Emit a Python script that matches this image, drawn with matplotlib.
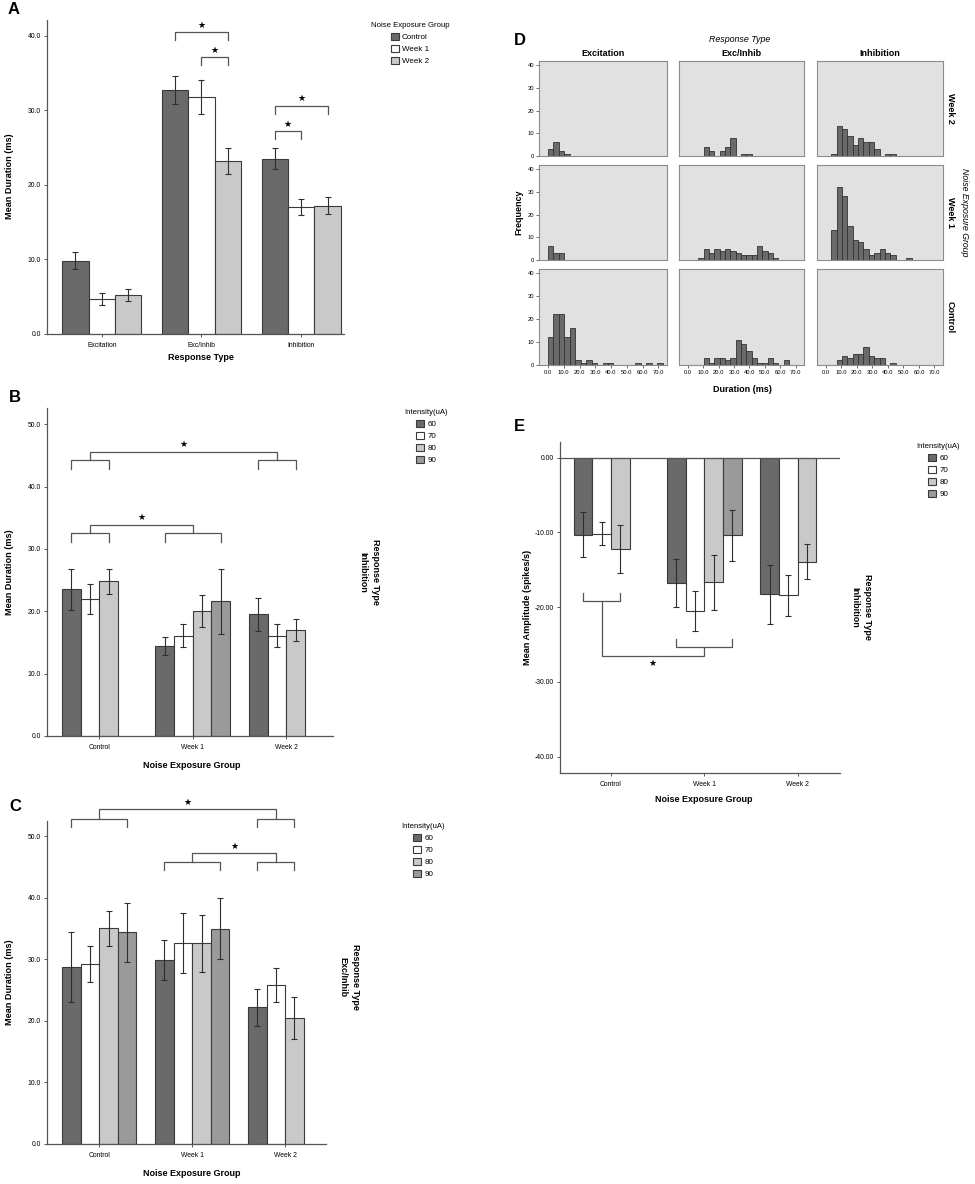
import numpy as np
import matplotlib
matplotlib.use("Agg")
import matplotlib.pyplot as plt

plt.rcParams['font.family'] = ['Liberation Sans', 'DejaVu Sans']
plt.rcParams['axes.unicode_minus'] = False

# ---------------- data ----------------
resp_types = ['Excitation', 'Exc/Inhib', 'Inhibition']
noise_groups = ['Control', 'Week 1', 'Week 2']
intensities = ['60', '70', '80', '90']

# A: mean duration by response type
a_control = [9.8, 32.7, 23.5]
a_control_err = [1.15, 1.9, 1.4]
a_week1 = [4.7, 31.8, 17.0]
a_week1_err = [0.85, 2.3, 1.1]
a_week2 = [5.2, 23.2, 17.2]
a_week2_err = [0.8, 1.8, 1.15]

# B: inhibition, mean duration by intensity
b_60 = [23.5, 14.45, 19.5]
b_60_err = [3.25, 1.45, 2.65]
b_70 = [22.0, 16.1, 16.1]
b_70_err = [2.4, 1.8, 1.9]
b_80 = [24.8, 20.1, 17.0]
b_80_err = [2.0, 2.55, 1.7]
b_90 = [np.nan, 21.6, np.nan]
b_90_err = [np.nan, 5.2, np.nan]

# C: exc/inhib, mean duration by intensity
c_60 = [28.7, 29.9, 22.2]
c_60_err = [5.7, 3.25, 2.95]
c_70 = [29.3, 32.7, 25.8]
c_70_err = [2.95, 4.9, 2.8]
c_80 = [35.1, 32.6, 20.5]
c_80_err = [2.85, 4.6, 3.4]
c_90 = [34.4, 35.0, np.nan]
c_90_err = [4.85, 5.0, np.nan]

# E: inhibition, mean amplitude by intensity
e_60 = [-10.3, -16.75, -18.3]
e_60_err = [3.0, 3.25, 3.95]
e_70 = [-10.2, -20.5, -18.4]
e_70_err = [1.55, 2.7, 2.75]
e_80 = [-12.2, -16.7, -13.9]
e_80_err = [3.2, 3.7, 2.3]
e_90 = [np.nan, -10.4, np.nan]
e_90_err = [np.nan, 3.45, np.nan]

# D: histogram counts (bins of ~3.5 ms starting at 0)
d_exc_week2 = [3, 6, 2, 1, 0, 0, 0, 0, 0, 0, 0, 0, 0, 0, 0, 0, 0, 0, 0, 0, 0]
d_exc_week1 = [6, 3, 3, 0, 0, 0, 0, 0, 0, 0, 0, 0, 0, 0, 0, 0, 0, 0, 0, 0, 0]
d_exc_control = [12, 22, 22, 12, 16, 2, 1, 2, 1, 0, 1, 1, 0, 0, 0, 0, 1, 0, 1, 0, 1]
d_ei_week2 = [0, 0, 0, 4, 2, 0, 2, 4, 8, 0, 1, 1, 0, 0, 0, 0, 0, 0, 0, 0, 0]
d_ei_week1 = [0, 0, 1, 5, 3, 5, 4, 5, 4, 3, 2, 2, 2, 6, 4, 3, 1, 0, 0, 0, 0]
d_ei_control = [0, 0, 0, 3, 1, 3, 3, 2, 3, 11, 9, 6, 3, 1, 1, 3, 1, 0, 2, 0, 0]
d_inh_week2 = [0, 1, 13, 12, 9, 5, 8, 6, 6, 3, 0, 1, 1, 0, 0, 0, 0, 0, 0, 0, 0]
d_inh_week1 = [0, 13, 32, 28, 15, 9, 8, 5, 2, 3, 5, 3, 2, 0, 0, 1, 0, 0, 0, 0, 0]
d_inh_control = [0, 0, 2, 4, 3, 5, 5, 8, 4, 3, 3, 0, 1, 0, 0, 0, 0, 0, 0, 0, 0]

# significance comparisons
# A: (group, first bar, last bar, bracket height)
sig_a = [(1, 0, 2, 40.5), (1, 1, 2, 37.1), (2, 0, 2, 30.6), (2, 0, 1, 27.2)]
# B/C/E: ((group, first, last), (group, first, last), left height, right height, connector height)
sig_b = [((0, 0, 2), (2, 0, 2), 44.2, 44.2, 45.6), ((0, 0, 2), (1, 0, 3), 32.5, 32.5, 33.9)]
sig_c = [((0, 0, 3), (2, 0, 2), 52.9, 52.9, 54.4), ((1, 0, 3), (2, 0, 2), 45.9, 45.9, 47.3)]
sig_e = [((0, 0, 2), (1, 0, 3), -19.2, -25.4, -26.6)]

# ---------------- style ----------------
W, H = 975, 1184
DARK = '#6a6a6a'
WHITE = '#ffffff'
LIGHT = '#c9c9c9'
MID = '#9a9a9a'
EDGE = '#3a3a3a'
SPINE = '#555555'

fig = plt.figure(figsize=(W / 100, H / 100), dpi=100)


def px_axes(left, top, right, bottom):
    return fig.add_axes([left / W, 1 - bottom / H, (right - left) / W, (bottom - top) / H])


def ftext(x, y, s, **kw):
    return fig.text(x / W, 1 - y / H, s, **kw)


def grouped_bars(ax, series, errs, colors, labels, width, offsets):
    x = np.arange(3)
    handles = []
    for vals, err, col, lab, off in zip(series, errs, colors, labels, offsets):
        vals = np.array(vals, float)
        err = np.array(err, float)
        ok = ~np.isnan(vals)
        b = ax.bar(x[ok] + off, vals[ok], width, color=col, edgecolor=EDGE,
                   linewidth=0.8, zorder=2, label=lab)
        ax.errorbar(x[ok] + off, vals[ok], yerr=err[ok], fmt='none', ecolor='#2e2e2e',
                    elinewidth=0.8, capsize=2.3, capthick=0.8, zorder=3)
        handles.append(b)
    return handles


def style_axes(ax, xlim, ylim, yticks, fmt, xlabels):
    ax.set_xlim(xlim)
    ax.set_ylim(ylim)
    for s in ['top', 'right']:
        ax.spines[s].set_visible(False)
    for s in ['left', 'bottom']:
        ax.spines[s].set_color(SPINE)
        ax.spines[s].set_linewidth(0.9)
    ax.set_xticks(range(3))
    ax.set_xticklabels(xlabels)
    ax.set_yticks(yticks)
    ax.set_yticklabels([fmt.format(v) for v in yticks])
    ax.tick_params(axis='both', length=2.5, width=0.7, color=SPINE, labelsize=4.9)
    ax.tick_params(axis='x', pad=3)
    ax.tick_params(axis='y', pad=2)


def star(ax, x, y, up=True):
    ax.annotate('★', (x, y), xytext=(0, 5 if up else -5), textcoords='offset points',
                ha='center', va='center', fontsize=6.5, family='DejaVu Sans',
                annotation_clip=False)


def simple_bracket(ax, x1, x2, y, drop):
    ax.plot([x1, x1, x2, x2], [y - drop, y, y, y - drop], color=SPINE, lw=0.9,
            clip_on=False, zorder=4)
    star(ax, (x1 + x2) / 2, y)


def nested_bracket(ax, left, right, yl, yr, yc, drop, offsets):
    xa, xb = left[0] + offsets[left[1]], left[0] + offsets[left[2]]
    xc, xd = right[0] + offsets[right[1]], right[0] + offsets[right[2]]
    kw = dict(color=SPINE, lw=0.9, clip_on=False, zorder=4)
    ax.plot([xa, xa, xb, xb], [yl - drop, yl, yl, yl - drop], **kw)
    ax.plot([xc, xc, xd, xd], [yr - drop, yr, yr, yr - drop], **kw)
    ml, mr = (xa + xb) / 2, (xc + xd) / 2
    ax.plot([ml, ml, mr, mr], [yl, yc, yc, yr], **kw)
    star(ax, (ml + mr) / 2, yc, up=drop > 0)


def legend(ax, handles, labels, title, cx, ty):
    ax.legend(handles, labels, title=title, loc='upper center',
              bbox_to_anchor=(cx / W, 1 - ty / H), bbox_transform=fig.transFigure,
              frameon=False, fontsize=5.8, title_fontsize=5.6, handlelength=1.0,
              handleheight=1.0, handletextpad=0.4, labelspacing=0.45,
              borderpad=0, borderaxespad=0)


def side_label(x, y, s):
    ftext(x, y, s, rotation=270, ha='center', va='center', fontweight='bold',
          fontsize=6.5, linespacing=1.5, multialignment='center')


# ---------------- Panel A ----------------
axA = px_axes(47, 20, 344, 334)
wa = 0.265
offs_a = [-wa, 0, wa]
hA = grouped_bars(axA, [a_control, a_week1, a_week2], [a_control_err, a_week1_err, a_week2_err],
                  [DARK, WHITE, LIGHT], noise_groups, wa, offs_a)
style_axes(axA, (-0.55, 2.43), (0, 42.1), [0, 10, 20, 30, 40], '{:.1f}', resp_types)
for g, s1, s2, y in sig_a:
    simple_bracket(axA, g + offs_a[s1], g + offs_a[s2], y, 1.07)
legend(axA, hA, noise_groups, 'Noise Exposure Group', 410, 22)
ftext(201, 358, 'Response Type', ha='center', va='center', fontweight='bold', fontsize=6.5)
ftext(10, 176, 'Mean Duration (ms)', rotation=90, ha='center', va='center',
      fontweight='bold', fontsize=6.6)
ftext(8, 2, 'A', ha='left', va='top', fontweight='bold', fontsize=12)

offs4 = [-0.3, -0.1, 0.1, 0.3]
cols4 = [DARK, WHITE, LIGHT, MID]

# ---------------- Panel B ----------------
axB = px_axes(47, 408, 333, 736)
hB = grouped_bars(axB, [b_60, b_70, b_80, b_90], [b_60_err, b_70_err, b_80_err, b_90_err],
                  cols4, intensities, 0.2, offs4)
style_axes(axB, (-0.56, 2.5), (0, 52.6), [0, 10, 20, 30, 40, 50], '{:.1f}', noise_groups)
for left, right, yl, yr, yc in sig_b:
    nested_bracket(axB, left, right, yl, yr, yc, 1.4, offs4)
legend(axB, hB, intensities, 'Intensity(uA)', 426, 409)
side_label(369, 572, 'Response Type\nInhibition')
ftext(192, 766, 'Noise Exposure Group', ha='center', va='center', fontweight='bold', fontsize=6.5)
ftext(10, 572, 'Mean Duration (ms)', rotation=90, ha='center', va='center',
      fontweight='bold', fontsize=6.6)
ftext(9, 390, 'B', ha='left', va='top', fontweight='bold', fontsize=12)

# ---------------- Panel C ----------------
axC = px_axes(47, 821, 326, 1144)
hC = grouped_bars(axC, [c_60, c_70, c_80, c_90], [c_60_err, c_70_err, c_80_err, c_90_err],
                  cols4, intensities, 0.2, offs4)
style_axes(axC, (-0.563, 2.44), (0, 52.5), [0, 10, 20, 30, 40, 50], '{:.1f}', noise_groups)
for left, right, yl, yr, yc in sig_c:
    nested_bracket(axC, left, right, yl, yr, yc, 1.3, offs4)
legend(axC, hC, intensities, 'Intensity(uA)', 423, 823)
side_label(349, 977, 'Response Type\nExc/Inhib')
ftext(192, 1174, 'Noise Exposure Group', ha='center', va='center', fontweight='bold', fontsize=6.5)
ftext(10, 982, 'Mean Duration (ms)', rotation=90, ha='center', va='center',
      fontweight='bold', fontsize=6.6)
ftext(9, 799, 'C', ha='left', va='top', fontweight='bold', fontsize=12)

# ---------------- Panel E ----------------
axE = px_axes(560, 442, 840, 773)
hE = grouped_bars(axE, [e_60, e_70, e_80, e_90], [e_60_err, e_70_err, e_80_err, e_90_err],
                  cols4, intensities, 0.2, offs4)
style_axes(axE, (-0.546, 2.454), (-42.2, 2.1), [0, -10, -20, -30, -40], '{:.2f}', noise_groups)
axE.axhline(0, color=SPINE, lw=0.9, zorder=4)
for left, right, yl, yr, yc in sig_e:
    nested_bracket(axE, left, right, yl, yr, yc, -1.15, offs4)
legend(axE, hE, intensities, 'Intensity(uA)', 938, 443)
side_label(861, 607, 'Response Type\nInhibition')
ftext(704, 799, 'Noise Exposure Group', ha='center', va='center', fontweight='bold', fontsize=6.5)
ftext(527, 607, 'Mean Amplitude (spikes/s)', rotation=90, ha='center', va='center',
      fontweight='bold', fontsize=6.6)
ftext(514, 419, 'E', ha='left', va='top', fontweight='bold', fontsize=12)

# ---------------- Panel D ----------------
bin_w = 3.46
d_cols = [(539, 667), (679, 804), (817, 943)]
d_rows = [(61, 156), (165, 260), (269, 365)]
d_grid = [[d_exc_week2, d_ei_week2, d_inh_week2],
          [d_exc_week1, d_ei_week1, d_inh_week1],
          [d_exc_control, d_ei_control, d_inh_control]]
row_names = ['Week 2', 'Week 1', 'Control']

for r, (top, bot) in enumerate(d_rows):
    for c, (lft, rgt) in enumerate(d_cols):
        ax = px_axes(lft, top, rgt, bot)
        counts = np.array(d_grid[r][c])
        edges = np.arange(len(counts)) * bin_w
        nz = counts > 0
        ax.bar(edges[nz], counts[nz], width=bin_w, align='edge', color=DARK,
               edgecolor='#333333', linewidth=0.6, zorder=2)
        ax.set_facecolor('#e1e1e1')
        ax.set_xlim(-5.7, 75.5)
        ax.set_ylim(0, 41.8)
        for s in ax.spines.values():
            s.set_color('#8c8c8c')
            s.set_linewidth(0.8)
        ax.set_xticks(np.arange(0, 71, 10))
        ax.set_yticks([0, 10, 20, 30, 40])
        ax.tick_params(length=2, width=0.6, color='#555555', labelsize=4.2, pad=1.5)
        if c == 0:
            ax.set_yticklabels([str(v) for v in [0, 10, 20, 30, 40]])
        else:
            ax.tick_params(axis='y', left=False, labelleft=False)
        if r == 2:
            ax.set_xticklabels(['{:.1f}'.format(v) for v in np.arange(0, 71, 10)])
        else:
            ax.tick_params(axis='x', bottom=False, labelbottom=False)
    side_label(950, (top + bot) / 2, row_names[r])

for c, (lft, rgt) in enumerate(d_cols):
    ftext((lft + rgt) / 2, 53, resp_types[c], ha='center', va='center',
          fontweight='bold', fontsize=6.5)
ftext(740, 39, 'Response Type', ha='center', va='center', fontstyle='italic', fontsize=6.4)
ftext(965, 212, 'Noise Exposure Group', rotation=270, ha='center', va='center',
      fontstyle='italic', fontsize=6.3)
ftext(519, 212, 'Frequency', rotation=90, ha='center', va='center',
      fontweight='bold', fontsize=6.5)
ftext(742, 389, 'Duration (ms)', ha='center', va='center', fontweight='bold', fontsize=6.5)
ftext(514, 33, 'D', ha='left', va='top', fontweight='bold', fontsize=12)

fig.savefig('out.png', dpi=100, facecolor='white')
